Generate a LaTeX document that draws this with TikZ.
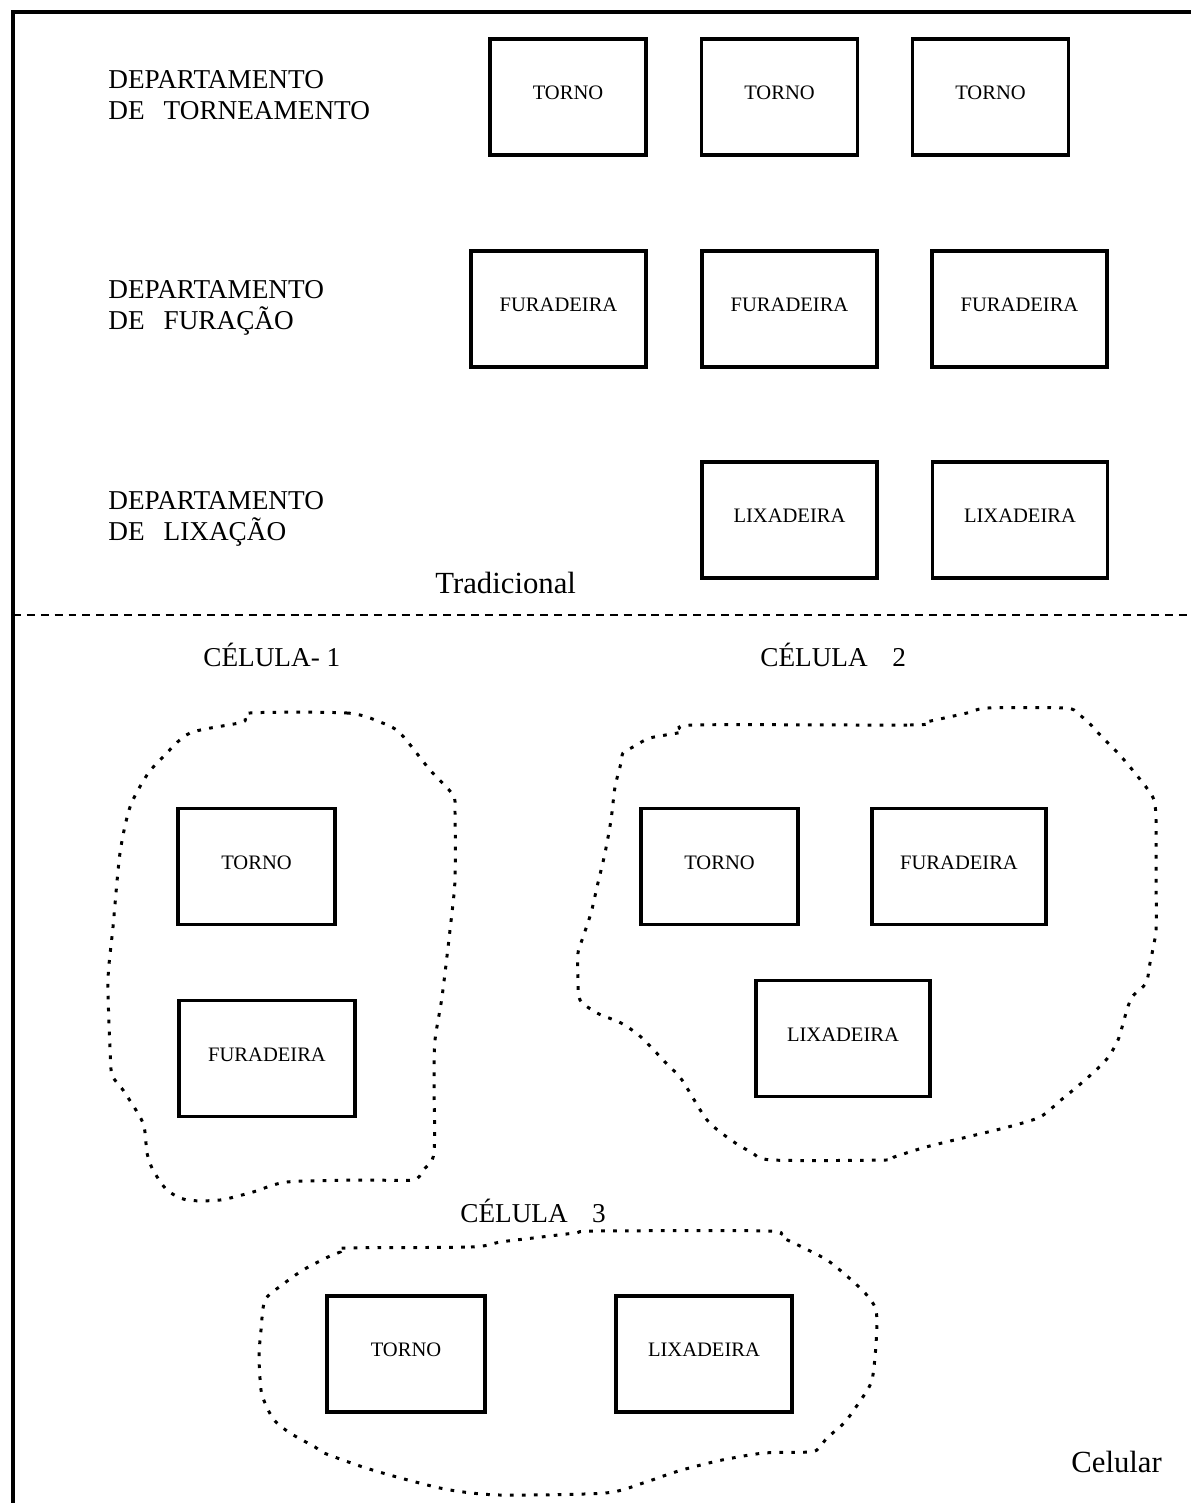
\documentclass[tikz,border=0pt]{standalone}
\usepackage{fontspec}
\setmainfont{Liberation Serif}
\begin{document}
\begin{tikzpicture}[x=0.02cm,y=-0.02cm,
  frame/.style={line width=1.9pt},
  sepline/.style={line width=1.1pt, dash pattern=on 4.5pt off 3.4pt},
  cell/.style={line width=1.7pt, dash pattern=on 2.1pt off 4.7pt},
  machine/.style={draw, line width=1.8pt, inner sep=0pt, minimum height=2.32cm,
    text depth=4.5pt, font=\fontsize{11.7}{14}\selectfont},
  narrow/.style={minimum width=3.12cm},
  wide/.style={minimum width=3.5cm},
  dept/.style={anchor=north west, inner sep=0pt, align=left,
    font=\fontsize{15.5}{17.6}\selectfont},
  cellname/.style={anchor=base west, inner sep=0pt, font=\fontsize{15.5}{18}\selectfont},
  layout/.style={anchor=base west, inner sep=0pt, font=\fontsize{17.5}{20}\selectfont}]

\useasboundingbox (0,0) rectangle (1191,1503);

% outer frame (left and top edges) and the divider between the two layouts
\coordinate (tl) at (13,12);
\coordinate (tr) at (1191,12);
\coordinate (bl) at (13,1503);
\draw[frame] (bl) -- (tl) -- (tr);
\coordinate (sl) at (13,615);
\coordinate (sr) at (1191,615);
\draw[sepline] (sl) -- (sr);

% ---- traditional (functional) layout ----
\node[dept] (dtorn) at (108,70)  {DEPARTAMENTO\\DE\hspace{0.7em}TORNEAMENTO};
\node[dept] (dfur)  at (108,280) {DEPARTAMENTO\\DE\hspace{0.7em}FURAÇÃO};
\node[dept] (dlix)  at (108,491) {DEPARTAMENTO\\DE\hspace{0.7em}LIXAÇÃO};

\node[machine,narrow] (t1) at (568,97)   {TORNO};
\node[machine,narrow] (t2) at (779.5,97) {TORNO};
\node[machine,narrow] (t3) at (990.5,97) {TORNO};

\node[machine,wide] (f1) at (558.5,309)  {FURADEIRA};
\node[machine,wide] (f2) at (789.5,309)  {FURADEIRA};
\node[machine,wide] (f3) at (1019.5,309) {FURADEIRA};

\node[machine,wide] (l1) at (789.5,520) {LIXADEIRA};
\node[machine,wide] (l2) at (1020,520)  {LIXADEIRA};

\node[layout] (trad) at (435,593) {Tradicional};

% ---- cellular layout ----
\node[cellname] (c1name) at (203,666)  {CÉLULA- 1};
\node[cellname] (c2name) at (760,666)  {CÉLULA\hspace{0.9em}2};
\node[cellname] (c3name) at (460,1222) {CÉLULA\hspace{0.9em}3};

% cell 1
\node[machine,minimum width=3.14cm] (c1t) at (256.5,866.5) {TORNO};
\node[machine,minimum width=3.52cm] (c1f) at (267,1058.5)  {FURADEIRA};
\draw[cell] plot[smooth cycle, tension=0.45] coordinates {
  (250,713) (347,713) (380,722) (400,733) (430,770) (453,795) (455,813)
  (455,880) (450,930) (442,997) (435,1040) (434,1080) (434,1153) (423,1170)
  (413,1180) (363,1180) (287,1182) (253,1192) (220,1200) (187,1200)
  (167,1190) (153,1170) (147,1153) (143,1123) (123,1090) (112,1075)
  (110,1047) (108,980) (113,927) (120,853) (130,807) (147,775) (163,757)
  (190,733) (243,722)};

% cell 2
\node[machine,minimum width=3.14cm] (c2t) at (719.5,866.5) {TORNO};
\node[machine,minimum width=3.48cm] (c2f) at (959,866.5)   {FURADEIRA};
\node[machine,minimum width=3.48cm] (c2l) at (843,1038.5)  {LIXADEIRA};
\draw[cell] plot[smooth cycle, tension=0.45] coordinates {
  (694,725) (910,725) (926,722) (967,713) (988,708) (1065,708) (1077,713)
  (1089,723) (1102,737) (1118,753) (1130,767) (1146,787) (1154,800)
  (1156,820) (1156,880) (1156,930) (1150,963) (1146,983) (1132,997)
  (1126,1013) (1118,1040) (1106,1060) (1085,1080) (1061,1100) (1040,1117)
  (1008,1127) (967,1137) (926,1147) (894,1157) (886,1160) (772,1160)
  (751,1152) (731,1140) (707,1120) (682,1080) (666,1063) (641,1037)
  (621,1023) (597,1013) (580,1000) (578,980) (578,953) (582,940) (591,913)
  (597,887) (605,853) (611,820) (615,787) (621,763) (623,753) (633,747)
  (650,738) (682,732)};

% cell 3
\node[machine,minimum width=3.16cm] (c3t) at (406,1354) {TORNO};
\node[machine,minimum width=3.52cm] (c3l) at (704,1354) {LIXADEIRA};
\draw[cell] plot[smooth cycle, tension=0.45] coordinates {
  (345,1248) (471,1247) (500,1242) (533,1238) (575,1233) (596,1231)
  (768,1231) (781,1237) (802,1247) (827,1260) (848,1277) (865,1293)
  (875,1307) (877,1323) (875,1357) (871,1383) (856,1407) (844,1423)
  (827,1438) (819,1448) (810,1452) (764,1453) (722,1460) (693,1467)
  (672,1473) (643,1483) (605,1493) (500,1495) (450,1490) (408,1480)
  (366,1468) (324,1453) (315,1447) (290,1433) (274,1420) (265,1403)
  (261,1390) (259,1357) (261,1330) (265,1300) (282,1285) (303,1270)
  (328,1257) (340,1252)};

\node[layout] (cel) at (1071,1472) {Celular};
\end{tikzpicture}
\end{document}
